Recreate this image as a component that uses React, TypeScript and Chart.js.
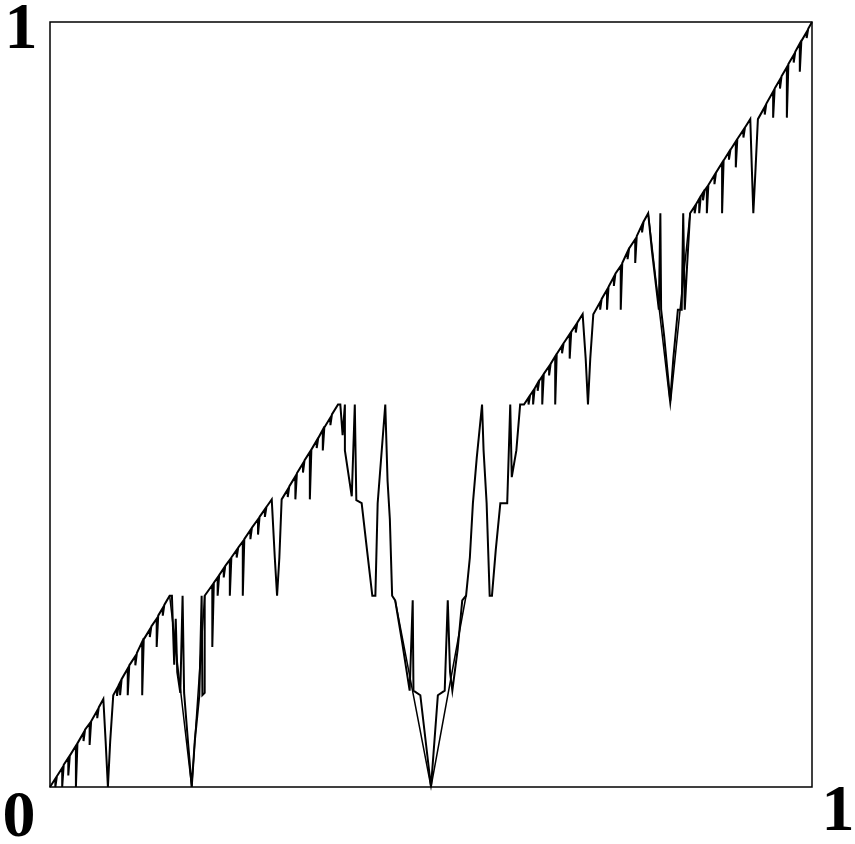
import React, { useEffect, useRef } from "react";
import { Chart, registerables } from "chart.js";

Chart.register(...registerables);

// Points, in axis units (0..1 on both axes)
const riseA: [number, number][] = [
  [0, 0], [0.007, 0.011], [0.007, 0], [0.009, 0.014], [0.016, 0.025], [0.016, 0], [0.018, 0.029],
  [0.024, 0.038], [0.024, 0.015], [0.026, 0.041], [0.034, 0.054], [0.034, 0], [0.036, 0.057],
  [0.044, 0.071], [0.044, 0.06], [0.046, 0.075],
  [0.052, 0.083], [0.052, 0.055], [0.054, 0.086],
  [0.062, 0.1], [0.062, 0.09], [0.064, 0.104],
  [0.07, 0.115], [0.073, 0.06], [0.076, 0],
  [0.079, 0.06], [0.083, 0.12], [0.088, 0.129], [0.088, 0.119], [0.09, 0.133],
  [0.092, 0.137], [0.092, 0.12], [0.094, 0.141], [0.102, 0.155],
  [0.102, 0.12], [0.104, 0.159], [0.112, 0.171], [0.112, 0.159], [0.114, 0.175],
  [0.121, 0.19], [0.121, 0.12], [0.123, 0.193], [0.131, 0.206], [0.131, 0.196], [0.133, 0.21],
  [0.14, 0.22], [0.14, 0.183], [0.142, 0.224], [0.148, 0.234], [0.148, 0.224], [0.15, 0.238],
  [0.157, 0.25],
];

const dipA: [number, number][] = [
  [0.16, 0.25], [0.163, 0.16], [0.165, 0.22], [0.167, 0.15], [0.171, 0.123], [0.174, 0.25],
  [0.176, 0.123], [0.181, 0.06], [0.186, 0], [0.19, 0.06], [0.196, 0.12], [0.199, 0.25],
  [0.2, 0.12], [0.203, 0.123], [0.203, 0.25],
];

const riseB: [number, number][] = [
  [0.213, 0.264], [0.213, 0.183], [0.215, 0.267],
  [0.22, 0.274], [0.22, 0.25], [0.222, 0.277], [0.228, 0.286], [0.228, 0.274], [0.23, 0.289],
  [0.236, 0.297], [0.236, 0.25], [0.238, 0.3], [0.245, 0.31], [0.245, 0.3], [0.247, 0.313],
  [0.253, 0.321], [0.253, 0.25], [0.255, 0.324], [0.263, 0.336], [0.263, 0.324], [0.265, 0.339],
  [0.273, 0.35], [0.273, 0.33], [0.275, 0.353], [0.282, 0.363], [0.282, 0.353], [0.284, 0.366],
  [0.291, 0.376], [0.295, 0.3], [0.298, 0.25], [0.301, 0.3], [0.304, 0.376],
  [0.312, 0.389], [0.312, 0.379], [0.314, 0.393], [0.322, 0.406],
  [0.322, 0.376], [0.324, 0.41], [0.332, 0.423], [0.332, 0.411], [0.334, 0.427],
  [0.341, 0.438], [0.341, 0.376], [0.343, 0.441], [0.35, 0.453], [0.35, 0.443], [0.352, 0.456],
  [0.358, 0.467], [0.358, 0.44], [0.36, 0.47], [0.368, 0.483], [0.368, 0.473], [0.37, 0.487],
  [0.378, 0.5],
];

const dipMain: [number, number][] = [
  [0.381, 0.5], [0.384, 0.46], [0.387, 0.5], [0.387, 0.44], [0.396, 0.38], [0.4, 0.5],
  [0.402, 0.375], [0.409, 0.371], [0.416, 0.31], [0.423, 0.25], [0.427, 0.25], [0.43, 0.371],
  [0.44, 0.5], [0.443, 0.4], [0.446, 0.35], [0.449, 0.25], [0.453, 0.244], [0.462, 0.19],
  [0.472, 0.126], [0.476, 0.244], [0.477, 0.126], [0.486, 0.12], [0.5, 0], [0.509, 0.12],
  [0.518, 0.126], [0.522, 0.244], [0.525, 0.15], [0.528, 0.126], [0.535, 0.18], [0.541, 0.244],
  [0.546, 0.25], [0.551, 0.3], [0.555, 0.371], [0.56, 0.43], [0.567, 0.5], [0.569, 0.44],
  [0.573, 0.371], [0.577, 0.25], [0.58, 0.25], [0.585, 0.31], [0.591, 0.371], [0.6, 0.371],
  [0.604, 0.5], [0.606, 0.405], [0.612, 0.44], [0.617, 0.5], [0.622, 0.5],
];

const riseC: [number, number][] = [
  [0.628, 0.509], [0.628, 0.5], [0.63, 0.512],
  [0.634, 0.518], [0.634, 0.5], [0.636, 0.521], [0.64, 0.528], [0.64, 0.518], [0.642, 0.531],
  [0.646, 0.537], [0.646, 0.5], [0.648, 0.54], [0.655, 0.55], [0.655, 0.538], [0.657, 0.553],
  [0.663, 0.563], [0.663, 0.5], [0.665, 0.566], [0.672, 0.577], [0.672, 0.567], [0.674, 0.58],
  [0.682, 0.592], [0.682, 0.56], [0.684, 0.595], [0.69, 0.604], [0.69, 0.594], [0.692, 0.607],
  [0.699, 0.618], [0.703, 0.56], [0.706, 0.5], [0.709, 0.56], [0.713, 0.618],
  [0.722, 0.634], [0.722, 0.624], [0.724, 0.638],
  [0.731, 0.65], [0.731, 0.624], [0.733, 0.654], [0.74, 0.667], [0.74, 0.655], [0.742, 0.671],
  [0.749, 0.681], [0.749, 0.624], [0.751, 0.685], [0.758, 0.7], [0.758, 0.69], [0.76, 0.704],
  [0.768, 0.716], [0.768, 0.685], [0.77, 0.72], [0.777, 0.735], [0.777, 0.725], [0.779, 0.739],
  [0.785, 0.75],
];

const dipC: [number, number][] = [
  [0.79, 0.7], [0.799, 0.624], [0.801, 0.75], [0.802, 0.624], [0.806, 0.589], [0.814, 0.505],
  [0.818, 0.56], [0.824, 0.624], [0.829, 0.624], [0.831, 0.75], [0.833, 0.624], [0.836, 0.68],
  [0.84, 0.75],
];

const riseD: [number, number][] = [
  [0.846, 0.759], [0.846, 0.75], [0.848, 0.762],
  [0.852, 0.769], [0.852, 0.75], [0.854, 0.772], [0.857, 0.777], [0.857, 0.767], [0.859, 0.78],
  [0.862, 0.784], [0.862, 0.75], [0.864, 0.787], [0.872, 0.8], [0.872, 0.788], [0.874, 0.803],
  [0.882, 0.816], [0.882, 0.75], [0.884, 0.819], [0.891, 0.83], [0.891, 0.82], [0.893, 0.833],
  [0.9, 0.844], [0.9, 0.81], [0.902, 0.847], [0.91, 0.859], [0.91, 0.849], [0.912, 0.862],
  [0.919, 0.873], [0.921, 0.81], [0.923, 0.75], [0.926, 0.81], [0.929, 0.873],
  [0.938, 0.889], [0.938, 0.879], [0.94, 0.893], [0.949, 0.909],
  [0.949, 0.875], [0.951, 0.913], [0.958, 0.925], [0.958, 0.913], [0.96, 0.929],
  [0.967, 0.941], [0.967, 0.875], [0.969, 0.945], [0.976, 0.957], [0.976, 0.947], [0.978, 0.961],
  [0.984, 0.972], [0.984, 0.935], [0.986, 0.975], [0.993, 0.987], [0.993, 0.979], [0.995, 0.991],
  [1, 1],
];

// Second strokes that make the V shapes look doubled in the reference
const outerVMain: [number, number][] = [[0.453, 0.244], [0.5, 0], [0.546, 0.25]];
const outerVLeft: [number, number][] = [[0.157, 0.25], [0.186, 0], [0.203, 0.25]];
const outerVRight: [number, number][] = [[0.785, 0.75], [0.814, 0.5], [0.84, 0.75]];

const cornerLabels = ["1", "0", "1"];

export default function App() {
  const ref = useRef<HTMLCanvasElement>(null);

  useEffect(() => {
    document.body.style.margin = "0";
    const canvas = ref.current;
    if (!canvas) return;
    const toPts = (arr: [number, number][]) => arr.map(([x, y]) => ({ x, y }));
    const main = toPts([...riseA, ...dipA, ...riseB, ...dipMain, ...riseC, ...dipC, ...riseD]);
    const line = (data: { x: number; y: number }[], w: number) => ({
      data,
      showLine: true,
      borderColor: "#000",
      borderWidth: w,
      pointRadius: 0,
      tension: 0,
      clip: false as any,
    });

    const framePlugin = {
      id: "frameAndLabels",
      afterDraw(chart: any) {
        const { ctx, chartArea: a } = chart;
        ctx.save();
        ctx.strokeStyle = "#000";
        ctx.lineWidth = 1.5;
        ctx.strokeRect(a.left, a.top, a.right - a.left, a.bottom - a.top);
        ctx.fillStyle = "#000";
        ctx.font = "bold 66px 'Liberation Serif', 'DejaVu Serif', serif";
        ctx.textAlign = "center";
        ctx.textBaseline = "alphabetic";
        ctx.fillText(cornerLabels[0], 21, 48);
        ctx.fillText(cornerLabels[1], 19, 836);
        ctx.fillText(cornerLabels[2], 838, 830);
        ctx.restore();
      },
    };

    const chart = new Chart(canvas, {
      type: "scatter",
      data: {
        datasets: [
          line(main, 2),
          line(toPts(outerVMain), 1.5),
          line(toPts(outerVLeft), 1.5),
          line(toPts(outerVRight), 1.5),
        ],
      },
      options: {
        responsive: false,
        animation: false,
        devicePixelRatio: 1,
        layout: { padding: { left: 50, right: 43, top: 22, bottom: 57 } },
        plugins: { legend: { display: false }, tooltip: { enabled: false } },
        scales: {
          x: { type: "linear", min: 0, max: 1, display: false },
          y: { type: "linear", min: 0, max: 1, display: false },
        },
      },
      plugins: [framePlugin],
    });
    return () => chart.destroy();
  }, []);

  return (
    <div style={{ width: 855, height: 844, background: "#fff" }}>
      <canvas ref={ref} width={855} height={844} style={{ display: "block" }} />
    </div>
  );
}
